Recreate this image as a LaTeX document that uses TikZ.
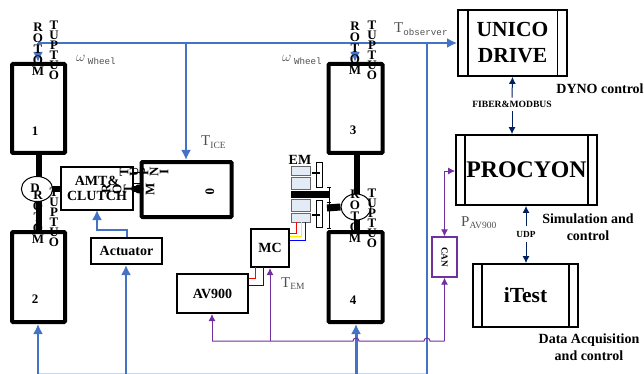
\documentclass[tikz,border=0pt]{standalone}
\usepackage{fontspec}
\setmainfont{Liberation Serif}
\newfontfamily\subfont{Liberation Mono}
\usetikzlibrary{calc}
\usetikzlibrary{arrows.meta}

\definecolor{sigblue}{HTML}{4472C4}
\definecolor{canpurple}{HTML}{7030A0}
\definecolor{linknavy}{HTML}{002060}
\definecolor{emfill}{HTML}{E3EBF7}
\definecolor{labelgray}{HTML}{505050}

\tikzset{
    wheelbox/.style={draw, line width=4pt, rounded corners=1pt, minimum width=53pt, minimum height=89pt, inner sep=0},
    plainbox/.style={draw, line width=2pt, inner sep=0, font=\bfseries\fontsize{14}{15}\selectfont, align=center},
    hostbox/.style={draw, line width=1.8pt, inner sep=0, align=center, font=\bfseries\fontsize{21.5}{26}\selectfont},
    numlabel/.style={font=\bfseries\fontsize{13}{13}\selectfont, inner sep=0},
    noteline/.style={font=\bfseries\fontsize{14}{17}\selectfont, align=center, inner sep=0},
    letterstack/.style={font=\bfseries\fontsize{13}{11}\selectfont, align=center, inner sep=0},
    letterstackb/.style={font=\bfseries\fontsize{13}{10}\selectfont, align=center, inner sep=0},
    shaft/.style={line width=6pt},
    bluesig/.style={sigblue, line width=2pt, >={Latex[length=10pt,width=10pt]}},
    purplesig/.style={canpurple, line width=1pt, >={Latex[length=7pt,width=7pt]}},
    navylink/.style={linknavy, line width=1pt, >={Latex[length=7pt,width=7pt]}},
    siglabel/.style={labelgray, inner sep=0, anchor=base west, font=\fontsize{15}{15}\selectfont},
    emcoil/.style={draw=gray!80!black, fill=emfill, line width=0.8pt},
}
\newcommand{\subtxt}[1]{\raisebox{-2.5pt}{\subfont\fontsize{9.2}{10}\selectfont #1}}
\newcommand{\subnarrow}[1]{\raisebox{-2.5pt}{\fontsize{9.5}{10}\selectfont #1}}

\begin{document}
\begin{tikzpicture}[
        >=latex, x=1pt, y=-1pt,
    ]
    \useasboundingbox (0,0) rectangle (644,374);

    % wheels, engine and the boxes beside them
    \node[wheelbox] (wheela) at (38.5,108.5) {};
    \node[wheelbox, minimum height=90pt] (wheelb) at (38.5,277) {};
    \node[wheelbox, minimum width=54pt] (wheelc) at (355.5,108.5) {};
    \node[wheelbox, minimum width=54pt, minimum height=90pt] (wheeld) at (355.5,277) {};
    \node[wheelbox, minimum width=90pt, minimum height=55pt] (engine) at (186.5,189.5) {};
    \node[plainbox, minimum width=72pt, minimum height=43pt] (clutch) at (97,188.5) {AMT\&\\CLUTCH};
    \node[plainbox, minimum width=71pt, minimum height=26pt] (actuator) at (126.5,251) {Actuator};
    \node[plainbox, minimum width=71.5pt, minimum height=39pt] (avnine) at (212.5,293.5) {AV900};
    \node[plainbox, minimum width=38pt, minimum height=38pt] (mc) at (270,248) {MC};
    \node[draw=canpurple, line width=1.3pt, minimum width=25pt, minimum height=40pt, inner sep=0] (can) at (444.5,257)
        {\rotatebox{-90}{\bfseries\fontsize{9.2}{9}\selectfont CAN}};

    \node[hostbox, minimum width=109pt, minimum height=66pt] (unico) at (512.5,43) {UNICO\\DRIVE};
    \node[hostbox, minimum width=141pt, minimum height=70pt, font=\bfseries\fontsize{23.8}{26}\selectfont] (procyon) at (526.5,170) {PROCYON};
    \node[hostbox, minimum width=105pt, minimum height=63pt] (itest) at (525.5,295.5) {iTest};

    \foreach \n/\d in {unico/10.5, procyon/10, itest/10}
        \draw[line width=1.8pt] ($(\n.north west) + (\d,0)$) -- ($(\n.south west) + (\d,0)$)
              ($(\n.north east) - (\d,0)$) -- ($(\n.south east) - (\d,0)$);

    % shafts
    \draw[shaft] (wheela.south) -- (wheelb.north);
    \draw[shaft] (wheelc.south) ++(1,0) -- ($(wheeld.north) + (1,0)$);
    \draw[shaft] (clutch.east |- 0,189) -- (engine.west |- 0,189);
    \draw[thin] (clutch.east |- 0,172) -- (engine.west |- 0,172);
    \draw[thin] (clutch.east |- 0,183) -- (engine.west |- 0,183);
    \draw[shaft] (clutch.west |- 0,189) -- (50,189);

    \node[draw, fill=white, circle, line width=1pt, minimum size=25pt, inner sep=0, xscale=1.25] (diffa) at (37,189) {};
    \node[inner sep=0, font=\bfseries\fontsize{13}{13}\selectfont] (difflabel) at (35,188) {D};
    \node[draw, fill=white, circle, line width=1pt, minimum size=26pt, inner sep=0, xscale=1.15] (diffb) at (356,207) {};

    % EM at the right axle
    \foreach \ya/\yb in {166/175, 177/189, 199/211, 213/222}
        \draw[emcoil] (291,\ya) rectangle (310,\yb);
    \draw[line width=7pt] (291,194) -- (329,194);
    \draw[line width=7pt] (327,208) -- (diffb.west);
    \draw[thin] (329,187) -- (329,228)
          (327,187) -- (331,187) (327,228) -- (331,228) (327,202) -- (331,202);
    \draw[thin] (316,162) -- (322,162) -- (322,187) -- (316,187)
          (316,162) -- (316,187);
    \draw[thin] (316,200) -- (322,200) -- (322,227) -- (316,227)
          (316,200) -- (316,227);
    \draw[line width=1.6pt] (312,173) -- (320,173) (312,215) -- (320,215);
    \node[inner sep=0, font=\bfseries\fontsize{14}{14}\selectfont] (emlabel) at (300,160) {EM};

    % motor phases
    \draw[red, line width=0.9pt] (296,222) -- (296,233) -- (mc.east |- 0,233);
    \draw[yellow, line width=0.9pt] (301,222) -- (301,236.5) -- (mc.east |- 0,236.5);
    \draw[blue, line width=0.9pt] (305,222) -- (305,240) -- (mc.east |- 0,240);
    \draw[red, line width=0.9pt] (255,267) -- (255,278) -- (avnine.east |- 0,278);
    \draw[blue, line width=0.9pt] (263,267) -- (263,285) -- (avnine.east |- 0,285);

    % blue signals
    \coordinate (topa) at (38,43);
    \coordinate (topb) at (186,43);
    \coordinate (topc) at (355,43);
    \coordinate (topd) at (427,43);
    \coordinate (bota) at (38,374);
    \coordinate (botb) at (126,374);
    \coordinate (botc) at (356,374);
    \coordinate (botd) at (427,374);
    \draw[sigblue!30, line width=1pt] (38,373.5) -- (428,373.5);
    \draw[bluesig, ->] (topa) -- (unico.west |- topa);
    \draw[bluesig, ->] (topa) -- (topa |- wheela.north);
    \draw[bluesig, ->] (topb) -- (topb |- engine.north);
    \draw[bluesig, ->] (topc) -- (topc |- wheelc.north);
    \draw[bluesig] (topd) -- (botd);
    \draw[bluesig, ->] (bota) -- (bota |- wheelb.south);
    \draw[bluesig, ->] (botb) -- (botb |- actuator.south);
    \draw[bluesig, line width=3pt, ->] (botc) -- (botc |- wheeld.south);
    \draw[bluesig, ->] (actuator.north) |- (97,229.5) -- (97,210);

    % CAN bus, with hops over the blue lines
    \coordinate (busa) at (212,341);
    \coordinate (busb) at (270,341);
    \coordinate (busc) at (444.5,341);
    \coordinate (hopa) at (356,341);
    \coordinate (hopb) at (427,341);
    \coordinate (cantop) at (444.5,171);
    \draw[purplesig, ->] (busc) -- (can.south);
    \draw[purplesig] (busa) -- ($(hopa) - (3,0)$) arc[start angle=180, end angle=0, radius=3pt]
          -- ($(hopb) - (3,0)$) arc[start angle=180, end angle=0, radius=3pt] -- (busc);
    \draw[purplesig, ->] (busa) -- (busa |- avnine.south);
    \draw[purplesig, ->] (busb) -- (busb |- mc.south);
    \draw[purplesig, ->] (cantop) -- (can.north);
    \draw[purplesig, ->] (cantop) -- (procyon.west |- cantop);

    % links of the test bench
    \node[inner sep=0, font=\bfseries\fontsize{9.6}{10}\selectfont] (fiber) at (512,104) {FIBER\&MODBUS};
    \node[inner sep=0, font=\bfseries\fontsize{9.3}{10}\selectfont] (udp) at (526,234) {UDP};
    \draw[navylink, ->] ($(fiber.north) + (0,-3)$) -- (unico.south);
    \draw[navylink, ->] ($(fiber.south) + (0,4)$) -- (procyon.north -| fiber);
    \draw[navylink, ->] ($(udp.north) + (0,-5)$) -- (procyon.south -| udp);
    \draw[navylink, ->] ($(udp.south) + (0,5)$) -- (itest.north -| udp);

    % stacked letters
    \foreach \n/\px/\py in {ma/38/49, mb/38/217, mc/355/48, md/355/216}
        \node[letterstack] (rotor\n) at (\px,\py) {R\\O\\T\\O\\M};
    \foreach \n/\px/\py in {oa/54/50, ob/54/217, oc/372/50, od/372/218}
        \node[letterstackb] (output\n) at (\px,\py) {T\\U\\P\\T\\U\\O};
    \node[letterstack, rotate=90] (rotorin) at (128,189) {R\\O\\T\\O\\M};
    \node[letterstackb, rotate=90] (inputin) at (144,172) {T\\U\\P\\N\\I};

    \node[numlabel] (numa) at (35,131) {1};
    \node[numlabel] (numb) at (35,299) {2};
    \node[numlabel] (numc) at (353,130) {3};
    \node[numlabel] (numd) at (353,300) {4};
    \node[numlabel, rotate=-90] (numz) at (210,192) {0};

    % signal names
    \node[siglabel] (wwheela) at (76,62) {$\omega$\,\subtxt{Wheel}};
    \node[siglabel] (wwheelb) at (282,62) {$\omega$\,\subtxt{Wheel}};
    \node[siglabel] (tobs) at (394,33) {T\subtxt{observer}};
    \node[siglabel] (tice) at (201,146) {T\subnarrow{ICE}};
    \node[siglabel] (tem) at (281,287) {T\subnarrow{EM}};
    \node[siglabel] (pav) at (461,226) {P\subnarrow{AV900}};

    \node[noteline] (dyno) at (600,89) {DYNO control};
    \node[noteline] (simul) at (588,227) {Simulation and\\control};
    \node[noteline] (acqui) at (589,347) {Data Acquisition\\and control};

\end{tikzpicture}
\end{document}
